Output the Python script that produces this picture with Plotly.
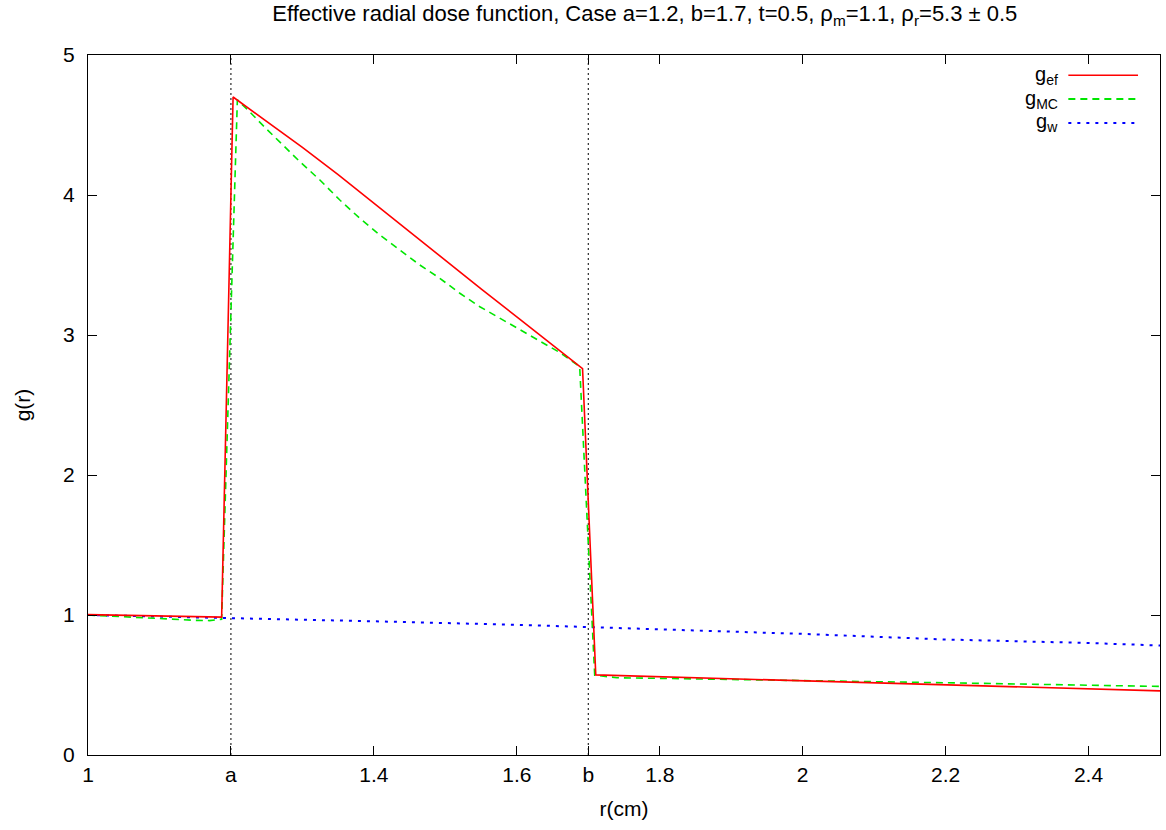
import plotly.graph_objects as go

# Shell boundaries (cm)
a_val = 1.2
b_val = 1.7

# Effective radial dose function g_ef
r_ef = [1.0, 1.187, 1.203, 1.25, 1.30, 1.35, 1.40, 1.45, 1.50, 1.55, 1.60, 1.65, 1.692, 1.7105, 2.0, 2.5]
g_ef = [1.003, 0.985, 4.70, 4.525, 4.34, 4.145, 3.94, 3.74, 3.535, 3.33, 3.13, 2.93, 2.76, 0.572, 0.531, 0.458]

# Monte Carlo radial dose function g_MC
r_mc = [1.0, 1.05, 1.10, 1.15, 1.17, 1.187, 1.209, 1.227, 1.25, 1.2965, 1.3245, 1.3524, 1.3804, 1.4084,
        1.4364, 1.4643, 1.4923, 1.5203, 1.5483, 1.5762, 1.6042, 1.6322, 1.6601, 1.688, 1.709, 1.74,
        1.80, 1.95, 2.2, 2.45, 2.5]
g_mc = [1.0, 0.99, 0.975, 0.962, 0.96, 0.97, 4.68, 4.59, 4.47, 4.238, 4.107, 3.964, 3.833, 3.714,
        3.607, 3.50, 3.405, 3.298, 3.202, 3.119, 3.036, 2.952, 2.875, 2.775, 0.57, 0.552,
        0.548, 0.537, 0.516, 0.494, 0.49]

# Water radial dose function g_w
r_w = [1.0, 1.2, 1.4, 1.6, 1.7, 1.8, 2.0, 2.2, 2.4, 2.5]
g_w = [1.0, 0.98, 0.955, 0.93, 0.915, 0.90, 0.865, 0.825, 0.80, 0.782]

# Axis ticks
x_tickvals = [1.0, 1.2, 1.4, 1.6, 1.7, 1.8, 2.0, 2.2, 2.4]
x_ticktext = ["1", "a", "1.4", "1.6", "b", "1.8", "2", "2.2", "2.4"]
y_tickvals = [0, 1, 2, 3, 4, 5]

x_range = [1.0, 2.5]
y_range = [0, 5]

FONT = "Liberation Sans, Arial, Helvetica, sans-serif"
FS = 21
RED = "#ff0000"
GREEN = "#00e600"
BLUE = "#0000ff"

fig = go.Figure()

# boundary markers at r=a and r=b
for xv in (a_val, b_val):
    fig.add_trace(go.Scatter(x=[xv, xv], y=y_range, mode="lines",
                             line=dict(color="black", width=1, dash="2px,3px"),
                             showlegend=False, hoverinfo="skip"))

fig.add_trace(go.Scatter(x=r_w, y=g_w, mode="lines", name="g_w",
                         line=dict(color=BLUE, width=2, dash="3px,6px"), showlegend=False))
fig.add_trace(go.Scatter(x=r_mc, y=g_mc, mode="lines", name="g_MC",
                         line=dict(color=GREEN, width=1.6, dash="7px,5px"), showlegend=False))
fig.add_trace(go.Scatter(x=r_ef, y=g_ef, mode="lines", name="g_ef",
                         line=dict(color=RED, width=1.6), showlegend=False))

# gnuplot-style key: label on the left, line sample on the right
key_items = [("g<sub>ef</sub>", RED, "solid"),
             ("g<sub>MC</sub>", GREEN, "7px,5px"),
             ("g<sub>w</sub>", BLUE, "3px,6px")]
key_y0 = 0.971
key_dy = 0.034
for i, (label, color, dash) in enumerate(key_items):
    yy = key_y0 - i * key_dy
    fig.add_annotation(xref="paper", yref="paper", x=0.907, y=yy, text=label,
                       showarrow=False, xanchor="right", yanchor="middle",
                       font=dict(family=FONT, size=20, color="black"))
    fig.add_shape(type="line", xref="paper", yref="paper",
                  x0=0.9145, x1=0.9795, y0=yy, y1=yy,
                  line=dict(color=color, width=2 if dash != "solid" else 1.6, dash=dash))

fig.update_layout(
    width=1166, height=830,
    margin=dict(l=88, r=6, t=55, b=75),
    paper_bgcolor="white", plot_bgcolor="white",
    font=dict(family=FONT, size=FS, color="black"),
    title=dict(text="Effective radial dose function, Case a=1.2, b=1.7, t=0.5, "
                    "ρ<sub>m</sub>=1.1, ρ<sub>r</sub>=5.3 ± 0.5",
               x=0.553, xanchor="center", y=0.993, yanchor="top",
               font=dict(family=FONT, size=22)),
    showlegend=False,
)
fig.update_xaxes(range=x_range, tickvals=x_tickvals, ticktext=x_ticktext,
                 ticks="inside", ticklen=9, tickwidth=1, tickcolor="black",
                 showline=True, linecolor="black", linewidth=1, mirror="allticks",
                 showgrid=False, zeroline=False, ticklabelstandoff=1,
                 title=dict(text="r(cm)", standoff=16, font=dict(size=FS)))
fig.update_yaxes(range=y_range, tickvals=y_tickvals,
                 ticks="inside", ticklen=9, tickwidth=1, tickcolor="black",
                 showline=True, linecolor="black", linewidth=1, mirror="allticks",
                 showgrid=False, zeroline=False, ticklabelstandoff=8,
                 title=dict(text="g(r)", standoff=26, font=dict(size=FS)))

fig.write_html("out.html")
